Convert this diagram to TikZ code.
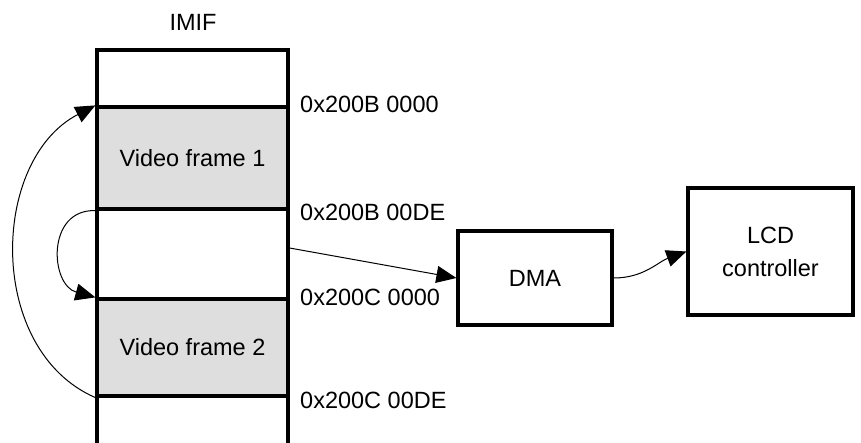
\documentclass[tikz,border=0pt]{standalone}
\usepackage{fontspec}
\setmainfont{Liberation Sans}
\usetikzlibrary{arrows.meta}
\begin{document}
\begin{tikzpicture}[x=1pt,y=-1pt,
  txt/.style={font=\fontsize{23.5}{33}\selectfont, inner sep=0pt},
  memcell/.style={draw, line width=3.2pt, minimum width=191pt, inner sep=0pt, font=\fontsize{23.5}{33}\selectfont},
  framecell/.style={memcell, fill=black!13},
  blockbox/.style={draw, line width=3.2pt, inner sep=0pt, align=center, font=\fontsize{23.5}{33}\selectfont},
  conn/.style={line width=1pt, -{Triangle[length=20pt,width=17pt]}}]
\useasboundingbox (0,0) rectangle (861,443);
% column
\draw[line width=3.2pt] (97,443) -- (97,50) -- (288,50) -- (288,443);
\node[framecell, minimum height=102pt] (f1) at (192.5,158) {Video frame 1};
\node[memcell, minimum height=90pt] (gap) at (192.5,254) {};
\node[framecell, minimum height=97pt] (f2) at (192.5,347.5) {Video frame 2};
\node[txt] (imif) at (193,22) {IMIF};
% address labels
\node[txt, anchor=west] (a1) at (300,104) {0x200B 0000};
\node[txt, anchor=west] (a2) at (300,212) {0x200B 00DE};
\node[txt, anchor=west] (a3) at (300,297) {0x200C 0000};
\node[txt, anchor=west] (a4) at (300,400) {0x200C 00DE};
% blocks
\node[blockbox, minimum width=154pt, minimum height=94pt] (dma) at (535,278) {DMA};
\node[blockbox, minimum width=165pt, minimum height=127pt] (lcd) at (770.5,251.5) {LCD\\controller};
% connectors
\draw[conn] (f2.south west) .. controls (-14,350) and (-10,160) .. (f1.north west);
\draw[conn] (f1.south west) .. controls (46,209) and (50,285) .. (f2.north west);
\draw[conn] ([yshift=6pt]gap.east) -- (dma.west);
\draw[conn] (dma.east) to[out=0,in=200] (lcd.west);
\end{tikzpicture}
\end{document}
